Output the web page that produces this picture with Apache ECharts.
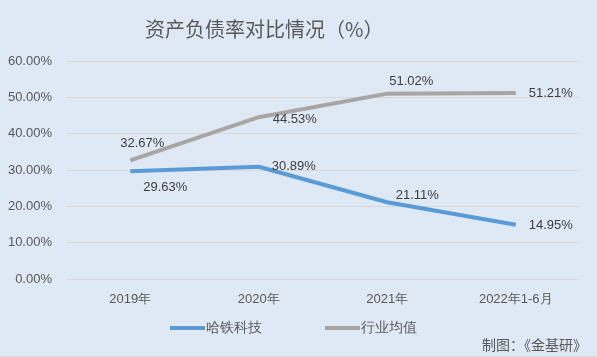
<!DOCTYPE html>
<html><head><meta charset="utf-8">
<script src="https://cdn.jsdelivr.net/npm/echarts@6/dist/echarts.min.js"></script>
<style>html,body{margin:0;padding:0;background:#dee9f5;}#c{width:597px;height:357px;}</style>
</head><body><div id="c"></div>
<script>
const categories = ['2019年', '2020年', '2021年', '2022年1-6月'];
const hatieValues = [29.63, 30.89, 21.11, 14.95];
const industryValues = [32.67, 44.53, 51.02, 51.21];
const seriesNames = ['哈铁科技', '行业均值'];
const titleText = '资产负债率对比情况（%）';
const sourceText = '制图：《金基研》';

const hatieOffsets = [[35, 16], [35, 0], [30, -7], [35, 1]];
const industryOffsets = [[12, -17], [36, 2], [24, -12], [35, 0]];

function mk(vals, offs) {
  return vals.map((v, i) => ({ value: v, label: { offset: offs[i] } }));
}
const chart = echarts.init(document.getElementById('c'));
const labelStyle = { show: true, position: 'inside', color: '#404040', fontSize: 13,
  fontFamily: 'Liberation Sans', formatter: p => p.value.toFixed(2) + '%' };
chart.setOption({
  backgroundColor: '#dee9f5',
  animation: false,
  title: { text: titleText, left: 140, top: 14,
    textStyle: { color: '#595959', fontSize: 20, fontWeight: 'normal', fontFamily: 'Noto Sans CJK SC' } },
  grid: { left: 66, right: 17, top: 61, bottom: 78 },
  legend: { left: 165, top: 316, itemWidth: 35, itemHeight: 4, itemGap: 63, icon: 'rect',
    itemStyle: { opacity: 1 },
    textStyle: { color: '#595959', fontSize: 14, padding: [0, 0, 0, -4] },
    data: seriesNames },
  xAxis: { type: 'category', data: categories, boundaryGap: true,
    axisLine: { show: false }, axisTick: { show: false },
    axisLabel: { color: '#595959', fontSize: 13, margin: 14, fontFamily: 'Liberation Sans' } },
  yAxis: { type: 'value', min: 0, max: 60, interval: 10,
    axisLine: { show: false }, axisTick: { show: false },
    axisLabel: { color: '#595959', fontSize: 13, margin: 14, fontFamily: 'Liberation Sans',
      formatter: v => v.toFixed(2) + '%' },
    splitLine: { lineStyle: { color: '#d9d9d9', width: 1 } } },
  series: [
    { name: seriesNames[0], type: 'line', data: mk(hatieValues, hatieOffsets),
      symbol: 'circle', symbolSize: 0, showSymbol: true, itemStyle: { color: '#5b9bd5' },
      lineStyle: { color: '#5b9bd5', width: 4 }, label: labelStyle },
    { name: seriesNames[1], type: 'line', data: mk(industryValues, industryOffsets),
      symbol: 'circle', symbolSize: 0, showSymbol: true, itemStyle: { color: '#a9a5a5' },
      lineStyle: { color: '#a9a5a5', width: 4 }, label: labelStyle }
  ],
  graphic: [
    { type: 'text', right: 10, top: 338, style: { text: sourceText, fill: '#595959', fontSize: 14, fontFamily: 'Noto Sans CJK SC' } },
    { type: 'rect', left: 0, top: 356, shape: { width: 597, height: 1 }, style: { fill: '#d9d9d9' } }
  ]
});
</script></body></html>
